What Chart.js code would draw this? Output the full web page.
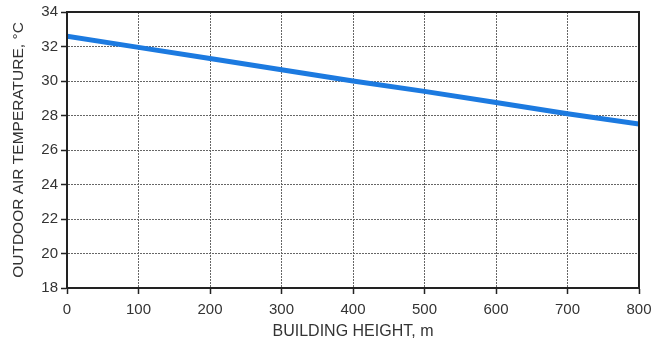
<!DOCTYPE html>
<html>
<head>
<meta charset="utf-8">
<script src="https://cdn.jsdelivr.net/npm/chart.js@4/dist/chart.umd.min.js"></script>
<style>
  html, body { margin: 0; padding: 0; background: #fff; }
  #wrap { width: 663px; height: 344px; }
</style>
</head>
<body>
<div id="wrap"><canvas id="c" width="663" height="344"></canvas></div>
<script>
// Building height (m) and the outdoor air temperature (°C) at that height
const heights = [0, 100, 200, 300, 400, 500, 600, 700, 800];
const temperatures = [32.6, 31.95, 31.3, 30.65, 30.0, 29.4, 28.75, 28.1, 27.5];

const xTicks = [0, 100, 200, 300, 400, 500, 600, 700, 800];
const yTicks = [18, 20, 22, 24, 26, 28, 30, 32, 34];

const xTitle = 'BUILDING HEIGHT, m';
const yTitle = 'OUTDOOR AIR TEMPERATURE, °C';

const FONT = 'Liberation Sans, Arial, sans-serif';

// Solid black frame around the plotting area
const frame = {
  id: 'frame',
  afterDatasetsDraw(chart) {
    const { ctx, chartArea: a } = chart;
    ctx.save();
    ctx.strokeStyle = '#222';
    ctx.lineWidth = 2;
    ctx.strokeRect(a.left, a.top, a.right - a.left, a.bottom - a.top);
    ctx.restore();
  }
};

new Chart(document.getElementById('c'), {
  type: 'line',
  data: {
    datasets: [{
      data: heights.map((h, i) => ({ x: h, y: temperatures[i] })),
      borderColor: '#1c7ae0',
      borderWidth: 5,
      pointRadius: 0,
      tension: 0,
      fill: false
    }]
  },
  options: {
    responsive: false,
    animation: false,
    layout: { padding: { top: 10, right: 24, left: 0, bottom: 0 } },
    plugins: { legend: { display: false }, tooltip: { enabled: false } },
    scales: {
      x: {
        type: 'linear',
        min: 0, max: 800,
        afterBuildTicks: s => { s.ticks = xTicks.map(v => ({ value: v })); },
        afterFit: s => { s.height = 56; },
        grid: {
          color: '#666',
          lineWidth: 1,
          tickColor: '#222',
          tickLength: 6,
          tickWidth: 1.5
        },
        border: { display: true, color: '#222', width: 2, dash: [2, 1] },
        ticks: {
          color: '#333',
          font: { family: FONT, size: 15 },
          padding: 7,
          maxRotation: 0
        },
        title: {
          display: true,
          text: xTitle,
          color: '#333',
          font: { family: FONT, size: 16 },
          padding: { top: 0, bottom: 3 }
        }
      },
      y: {
        type: 'linear',
        min: 18, max: 34,
        afterBuildTicks: s => { s.ticks = yTicks.map(v => ({ value: v })); },
        afterFit: s => { s.width = 67; },
        grid: {
          color: '#666',
          lineWidth: 1,
          tickColor: '#222',
          tickLength: 6,
          tickWidth: 1.5
        },
        border: { display: true, color: '#222', width: 2, dash: [2, 1] },
        ticks: {
          color: '#333',
          font: { family: FONT, size: 15 },
          padding: 3
        },
        title: {
          display: true,
          text: yTitle,
          color: '#333',
          font: { family: FONT, size: 15.5 },
          padding: { top: 9, bottom: 0 }
        }
      }
    }
  },
  plugins: [frame]
});
</script>
</body>
</html>
